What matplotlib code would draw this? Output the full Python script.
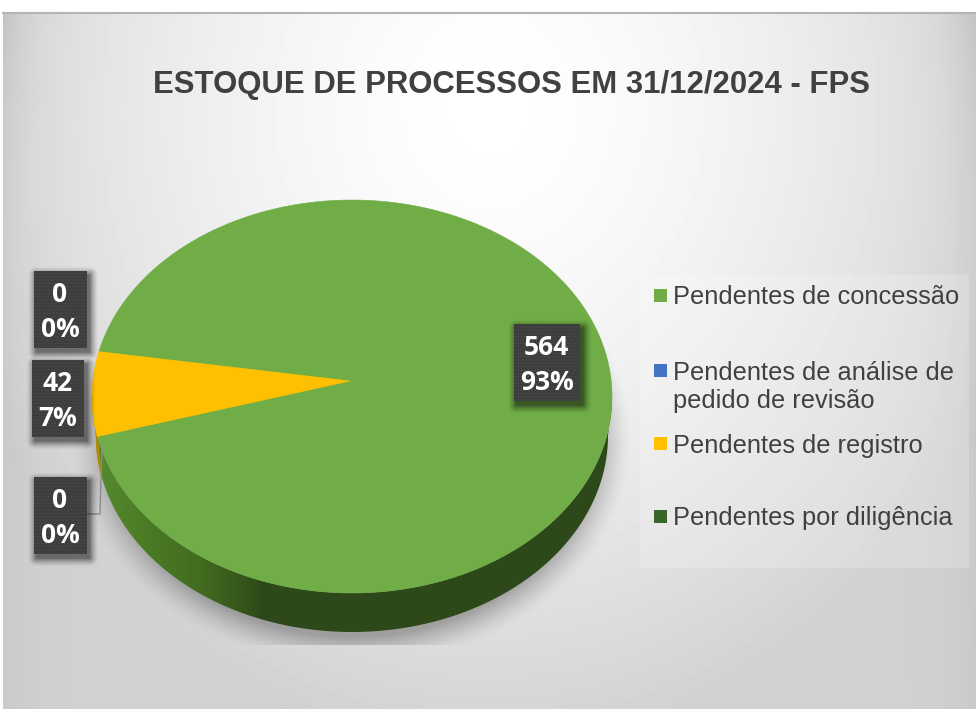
import numpy as np
import matplotlib
matplotlib.use('Agg')
import matplotlib.pyplot as plt
from matplotlib.patches import Polygon, Rectangle

categories = ['Pendentes de concessão', 'Pendentes de análise de\npedido de revisão',
              'Pendentes de registro', 'Pendentes por diligência']
values = [564, 0, 42, 0]
percents = ['93%', '0%', '7%', '0%']
colors = ['#70ad47', '#4472c4', '#ffc000', '#38662a']
side_colors = ['#3a6420', '#2f5597', '#b98c00', '#264a1c']
title = 'ESTOQUE DE PROCESSOS EM 31/12/2024 - FPS'

W, H = 976, 709
plt.rc('font', family='Liberation Sans')
plt.rc('hatch', linewidth=0.6)
fig = plt.figure(figsize=(W / 100, H / 100), dpi=100, facecolor='w')
ax = fig.add_axes([0, 0, 1, 1])

# pie geometry in pixels
cx, cy, rx, ry = 352, 396.5, 260, 196.5
rx_low = 256
apex = (350, 381)
depth = 39
first_angle = 166.8

xx, yy = np.meshgrid(np.arange(W) + 0.5, np.arange(H) + 0.5)

# chart background, edges darkest near the top corners
d = np.sqrt(((xx - 490) / 560) ** 2 + ((yy - 110) / 640) ** 2)
bg = 255 - 46 * np.clip(d, 0, 1) ** 1.5
edge = 8 + 16 * np.exp(-yy / 150)
bg -= edge * (np.exp(-(xx - 3) / 28) + np.exp(-(W - xx) / 28))
bg[yy < 12] = 255
bg[xx < 3] = 255
ax.imshow(bg, cmap='gray', vmin=0, vmax=255, extent=(0, W, H, 0), aspect='auto', zorder=0)
ax.plot([3, W], [12.5, 12.5], color='#b4b4b4', lw=1.5, zorder=1)

# soft shadow under the pie
sd = np.sqrt(((xx - cx) / 280) ** 2 + ((yy - 440) / 226) ** 2)
salpha = 0.42 * np.clip((1 - sd) / 0.13, 0, 1) ** 1.4
salpha[yy > 645] = 0
shadow = np.zeros((H, W, 4))
shadow[..., :3] = 0.3
shadow[..., 3] = salpha
ax.imshow(shadow, extent=(0, W, H, 0), aspect='auto', zorder=2)

# pie side wall, shaded from left to right
t = np.radians(np.linspace(180, 360, 200))
ex = cx + rx * np.cos(t)
ey = cy - ry * np.sin(t)
ex_low = cx + rx_low * np.cos(t)
wall = np.vstack([np.c_[ex, ey], np.c_[ex_low[::-1], ey[::-1] + depth]])
wall_clip = Polygon(wall, closed=True, transform=ax.transData, fc='none', ec='none')
ax.add_patch(wall_clip)
stops_x = [92, 140, 200, 265, 612]
stops_r = [88, 76, 66, 46, 45]
stops_g = [140, 124, 108, 72, 72]
stops_b = [48, 38, 32, 25, 25]
row = np.dstack([np.interp(np.arange(W), stops_x, s) / 255 for s in (stops_r, stops_g, stops_b)])
im = ax.imshow(row, extent=(0, W, H, 0), aspect='auto', zorder=3)
im.set_clip_path(wall_clip)

# slices, clockwise from first_angle
total = sum(values)
start = first_angle
for val, col, scol in zip(values, colors, side_colors):
    if val == 0:
        continue
    end = start - 360 * val / total
    a = np.radians(np.linspace(start, end, 300))
    px = cx + rx * np.cos(a)
    py = cy - ry * np.sin(a)
    pts = np.vstack([[apex], np.c_[px, py]])
    ax.add_patch(Polygon(pts, closed=True, fc=col, ec=col, lw=0.4, zorder=5))
    # the part of a small slice that shows on the front wall
    vis = np.sin(a) < 0
    if val / total < 0.5 and vis.any():
        low_x = cx + rx_low * np.cos(a[vis])
        low_y = py[vis] + depth
        ax.add_patch(Polygon(np.vstack([np.c_[px[vis], py[vis]], np.c_[low_x[::-1], low_y[::-1]]]),
                             closed=True, fc=scol, ec=scol, lw=0.4, zorder=4))
    start = end

# title
ax.text(511.5, 85, title, ha='center', va='center', fontsize=22.4, fontweight='bold', color='#404040', zorder=6)

# legend
ax.add_patch(Rectangle((640, 275), 329, 293, fc='w', alpha=0.2, ec='none', zorder=2))
legend_y = [295, 370, 443, 516]
for cat, col, y in zip(categories, colors, legend_y):
    ax.add_patch(Rectangle((654, y - 6), 13, 13, fc=col, ec='none', zorder=6))
    ax.text(673, y - 9.5, cat, ha='left', va='top', fontsize=18.3, color='#404040', linespacing=1.22, zorder=6)

# data labels
label_boxes = [(513.5, 324, 66.5, 77), (33.5, 477, 53, 77), (32, 360, 52, 77), (33.5, 271, 53, 77)]

# leader line of the lower zero label
ax.plot([87, 100, 102], [514, 514, 445], color='#8c8c8c', lw=1, zorder=6)

# blurred box shadows, offset down and to the right
box_alpha = np.zeros((H, W))
for bx, by, bw, bh in label_boxes:
    dx = np.maximum(np.maximum(bx + 3 - xx, xx - (bx + bw + 3)), 0)
    dy = np.maximum(np.maximum(by + 4 - yy, yy - (by + bh + 4)), 0)
    box_alpha = np.maximum(box_alpha, 0.5 * np.clip(1 - np.hypot(dx, dy) / 9, 0, 1) ** 1.5)
box_shadow = np.zeros((H, W, 4))
box_shadow[..., 3] = box_alpha
ax.imshow(box_shadow, extent=(0, W, H, 0), aspect='auto', zorder=7)

for val, pct, (bx, by, bw, bh) in zip(values, percents, label_boxes):
    ax.add_patch(Rectangle((bx, by), bw, bh, fc='#3d3d3d', ec='#4d4d4d', hatch='.....', lw=0, zorder=8))
    ax.text(bx + bw / 2, by + bh * 0.31, str(val), ha='center', va='center', fontsize=19,
            fontweight='bold', family='Open Sans', color='w', zorder=9)
    ax.text(bx + bw / 2, by + bh * 0.755, pct, ha='center', va='center', fontsize=19,
            fontweight='bold', family='Open Sans', color='w', zorder=9)

ax.set_xlim(0, W)
ax.set_ylim(H, 0)
ax.axis('off')
fig.savefig('out.png', dpi=100)
